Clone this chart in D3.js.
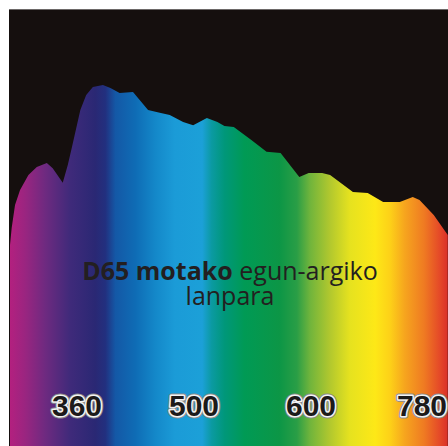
<!DOCTYPE html>
<html><head><meta charset="utf-8">
<script src="https://cdn.jsdelivr.net/npm/d3@7"></script>
<style>html,body{margin:0;padding:0;background:#fff;overflow:hidden}</style>
</head><body>
<script>
// ---- data ----
const wavelengths = [280,282,286,292,302,312,324,331,343,349,354,364,371,379,391,400,411,427,435,445,459,471,487,499,511,520,526,534,549,562,574,590,598,618,631,668,692,717,744,765,776,801,826];
const power       = [65.5,71.0,78.5,83.4,88.3,90.9,92.2,90.5,85.7,91.5,97.4,109.4,114.3,116.9,117.6,116.6,115.0,115.3,112.7,109.4,108.5,107.8,105.5,104.5,106.8,105.5,104.2,103.9,99.7,95.8,95.4,87.6,88.9,88.9,88.3,82.7,82.4,79.5,79.5,81.1,80.1,75.2,68.7];
const tickLabels  = [360,500,600,780];
const titleBold   = "D65 motako";
const titleRest   = " egun-argiko";
const titleLine2  = "lanpara";

// ---- styles ----
const spectrumStops = [
  [280,"#b3207f"],[298,"#9a2580"],[322,"#6e2a80"],[352,"#3f2a7a"],[382,"#2a2874"],[394,"#22307f"],
  [406,"#1458a6"],[430,"#0f6cb5"],[454,"#1488c9"],[477,"#1b9bd7"],[507,"#1ca0d8"],[515,"#0b9aa2"],
  [526,"#00977a"],[543,"#009a55"],[573,"#0c9646"],[588,"#2a9e46"],[599,"#6fb43c"],[631,"#b2c82e"],
  [663,"#e6e21f"],[704,"#fde817"],[728,"#fdd118"],[752,"#f6a51e"],[784,"#ef7a22"],[811,"#e54a28"],[826,"#da3028"]
];

const W = 448, H = 446;
const svg = d3.select("body").append("svg").attr("width", W).attr("height", H);

const x = d3.scaleLinear().domain([280,360,500,600,780,830]).range([10,77,194,311,422,450]);
const y = d3.scaleLinear().domain([0,142]).range([446,10]);

const defs = svg.append("defs");
const grad = defs.append("linearGradient").attr("id","spec")
  .attr("gradientUnits","userSpaceOnUse").attr("x1",x(280)).attr("x2",x(826)).attr("y1",0).attr("y2",0);
const span = x(826) - x(280);
grad.selectAll("stop").data(spectrumStops).join("stop")
  .attr("offset", d => (x(d[0]) - x(280)) / span)
  .attr("stop-color", d => d[1]);
defs.append("clipPath").attr("id","clip").append("rect").attr("x",9).attr("y",9).attr("width",W-9).attr("height",H-9);

svg.append("rect").attr("x",9).attr("y",9).attr("width",W-9).attr("height",H-9).attr("fill","#150f0e");
svg.append("line").attr("x1",9).attr("x2",W).attr("y1",9.5).attr("y2",9.5).attr("stroke","#6d6968").attr("stroke-width",1);

const data = wavelengths.map((w,i)=>({w, v: power[i]}));
const area = d3.area().x(d=>x(d.w)).y0(y(0)).y1(d=>y(d.v));
svg.append("g").attr("clip-path","url(#clip)")
  .append("path").datum(data).attr("d", area).attr("fill","url(#spec)");

// title (one text block, two lines)
const title = svg.append("text").attr("text-anchor","middle")
  .attr("font-family","'Open Sans', sans-serif").attr("font-size",25).attr("fill","#231f20");
const l1 = title.append("tspan").attr("x",230).attr("y",280);
l1.append("tspan").attr("font-weight","bold").text(titleBold);
l1.append("tspan").text(titleRest);
title.append("tspan").attr("x",230).attr("y",305).text(titleLine2);

// tick labels
const ax = svg.append("g");
ax.selectAll("text.o").data(tickLabels).join("text").attr("class","o")
  .attr("x", d=>x(d)).attr("y",416).attr("text-anchor","middle")
  .attr("font-family","'Liberation Sans', Arial, sans-serif").attr("font-weight","bold").attr("font-size",30)
  .attr("fill","none").attr("stroke","#8a8a8a").attr("stroke-width",5).attr("stroke-linejoin","round").text(d=>d);
ax.selectAll("text.i").data(tickLabels).join("text").attr("class","i")
  .attr("x", d=>x(d)).attr("y",416).attr("text-anchor","middle")
  .attr("font-family","'Liberation Sans', Arial, sans-serif").attr("font-weight","bold").attr("font-size",30)
  .attr("fill","#1c1a1a").attr("stroke","#f4f4f4").attr("stroke-width",3).attr("stroke-linejoin","round")
  .attr("paint-order","stroke").text(d=>d);
</script>
</body></html>
